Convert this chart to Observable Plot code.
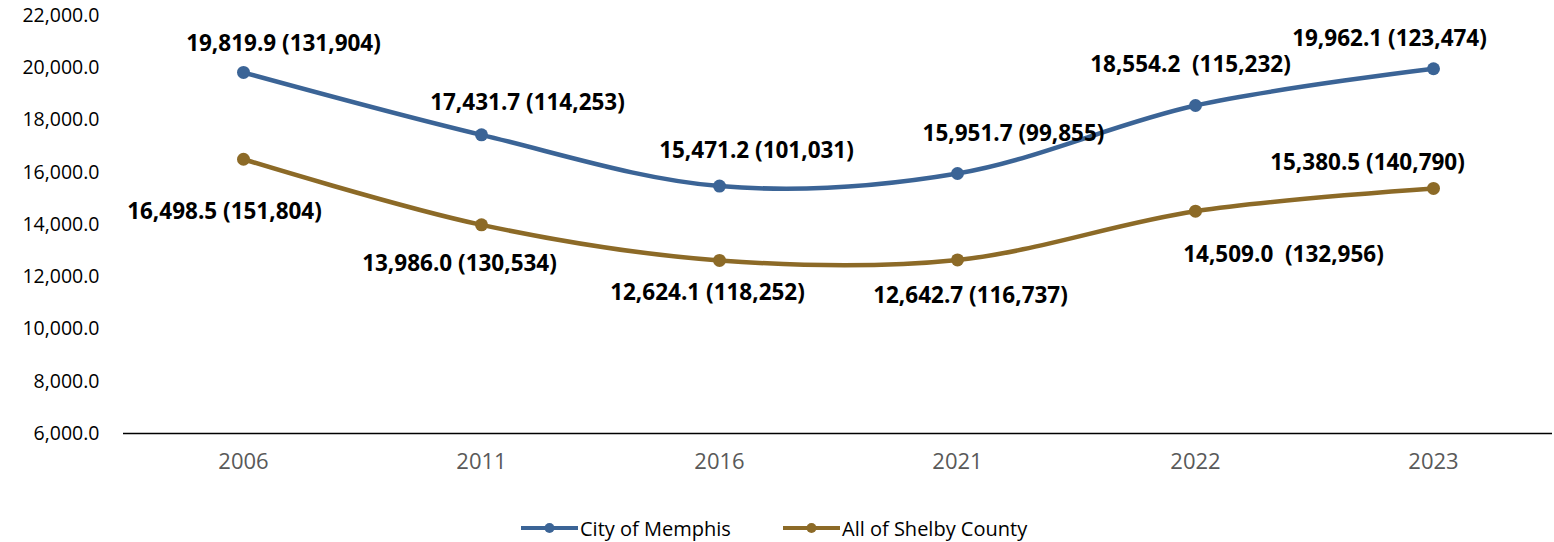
<!DOCTYPE html>
<html>
<head>
<meta charset="utf-8">
<script src="https://cdn.jsdelivr.net/npm/d3@7"></script>
<script src="https://cdn.jsdelivr.net/npm/@observablehq/plot@0.6"></script>
<style>
  html, body { margin: 0; padding: 0; background: #fff; }
  #chart { width: 1554px; }
  #legend { position: relative; width: 1554px; height: 32px; font-family: "Open Sans", sans-serif; font-size: 20px; color: #000; }
  .item { position: absolute; top: 0; height: 32px; display: flex; align-items: center; }
  .item svg { margin-right: 2px; }
</style>
</head>
<body>
<div id="chart"></div>
<div id="legend"></div>
<script>
const years = ["2006", "2011", "2016", "2021", "2022", "2023"];
const seriesNames = ["City of Memphis", "All of Shelby County"];
const seriesColors = ["#3b6496", "#8c6a27"];
const memphisValues = [19819.9, 17431.7, 15471.2, 15951.7, 18554.2, 19962.1];
const shelbyValues = [16498.5, 13986.0, 12624.1, 12642.7, 14509.0, 15380.5];
const memphisLabels = ["19,819.9 (131,904)", "17,431.7 (114,253)", "15,471.2 (101,031)", "15,951.7 (99,855)", "18,554.2  (115,232)", "19,962.1 (123,474)"];
const shelbyLabels = ["16,498.5 (151,804)", "13,986.0 (130,534)", "12,624.1 (118,252)", "12,642.7 (116,737)", "14,509.0  (132,956)", "15,380.5 (140,790)"];
const yTicks = [6000, 8000, 10000, 12000, 14000, 16000, 18000, 20000, 22000];

// label placement offsets (layout only)
const memphisOffsets = [[40, -29], [46, -32], [37, -35], [56, -40], [-5, -41], [-44, -30]];
const shelbyOffsets = [[-19, 53], [-22, 39], [-12, 32], [13, 36], [88, 44], [-66, -26]];

const rows = [];
years.forEach((yr, i) => {
  rows.push({year: yr, value: memphisValues[i], series: seriesNames[0], label: memphisLabels[i], off: memphisOffsets[i]});
  rows.push({year: yr, value: shelbyValues[i], series: seriesNames[1], label: shelbyLabels[i], off: shelbyOffsets[i]});
});

const labelMarks = rows.map(r => Plot.text([r], {
  x: "year", y: "value", text: "label",
  dx: r.off[0], dy: r.off[1],
  fontWeight: "bold", fontSize: 22.5, fill: "#000"
}));

const chart = Plot.plot({
  width: 1554,
  height: 512,
  marginLeft: 123,
  marginRight: 2,
  marginTop: 15,
  marginBottom: 79,
  style: {fontFamily: "Open Sans, sans-serif", fontSize: "20px", background: "#fff", overflow: "visible"},
  x: {type: "point", domain: years, padding: 0.5, label: null},
  y: {domain: [6000, 22000], label: null},
  color: {domain: seriesNames, range: seriesColors},
  marks: [
    Plot.axisY({ticks: yTicks, tickFormat: d3.format(",.1f"), tickSize: 0, tickPadding: 24, fill: "#000", fontSize: 19.5, label: null}),
    Plot.axisX({tickSize: 0, tickPadding: 20, fill: "#595959", fontSize: 22, label: null}),
    Plot.ruleY([6000], {stroke: "#000", strokeWidth: 1.5}),
    Plot.line(rows, {x: "year", y: "value", z: "series", stroke: "series", strokeWidth: 4.5, curve: "cardinal"}),
    Plot.dot(rows, {x: "year", y: "value", fill: "series", r: 6.5}),
    ...labelMarks
  ]
});
document.getElementById("chart").appendChild(chart);

// legend
const legend = document.getElementById("legend");
const lefts = [521, 783];
seriesNames.forEach((name, i) => {
  const item = document.createElement("div");
  item.className = "item";
  item.style.left = lefts[i] + "px";
  item.innerHTML = `<svg width="57" height="14"><line x1="0" y1="7" x2="57" y2="7" stroke="${seriesColors[i]}" stroke-width="4"/><circle cx="28.5" cy="7" r="5" fill="${seriesColors[i]}"/></svg><span>${name}</span>`;
  legend.appendChild(item);
});
</script>
</body>
</html>
